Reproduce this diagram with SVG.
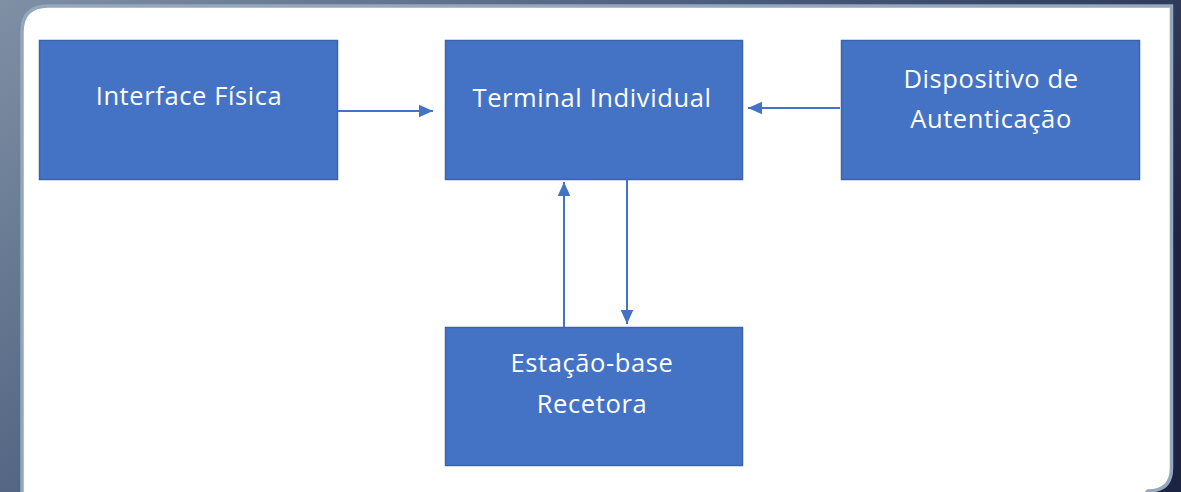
<svg xmlns="http://www.w3.org/2000/svg" width="1181" height="492" viewBox="0 0 1181 492">
<defs>
<linearGradient id="bg" x1="0" y1="0" x2="1" y2="0.5">
<stop offset="0" stop-color="#7f90a5"/>
<stop offset="0.5" stop-color="#4a5c7b"/>
<stop offset="1" stop-color="#1c2444"/>
</linearGradient>
<marker id="ah" viewBox="0 0 10 10" refX="10" refY="5" markerWidth="7" markerHeight="7" orient="auto" markerUnits="strokeWidth">
<path d="M0,0.5 L10,5 L0,9.5 z" fill="#4472C4"/>
</marker>
<style>
.box{fill:#4472C4;stroke:#3b64ad;stroke-width:1.5}
.lbl{font-family:"Open Sans","Liberation Sans",sans-serif;font-size:25.5px;letter-spacing:0.6px;fill:#ffffff;text-anchor:middle}
.conn{stroke:#4472C4;stroke-width:2;fill:none;marker-end:url(#ah)}
</style>
</defs>
<rect x="0" y="0" width="1181" height="492" fill="url(#bg)"/>
<path d="M22,500 L22,32 Q22,6 48,6 L1171.5,6 L1171.5,468 Q1171.5,491 1148,491 L1140,500 Z" fill="#ffffff" stroke="#94a7bd" stroke-width="3.5"/>
<g id="node-interface">
<rect class="box" x="39.5" y="40.5" width="298" height="139"/>
<text class="lbl" x="189" y="105">Interface Física</text>
</g>
<g id="node-terminal">
<rect class="box" x="445.5" y="40.5" width="297" height="139"/>
<text class="lbl" x="592" y="107">Terminal Individual</text>
</g>
<g id="node-dispositivo">
<rect class="box" x="841.5" y="40.5" width="298" height="139"/>
<text class="lbl" x="991" y="88">Dispositivo de</text>
<text class="lbl" x="991" y="128">Autenticação</text>
</g>
<g id="node-estacao">
<rect class="box" x="445.5" y="327.5" width="297" height="138"/>
<text class="lbl" x="592" y="372">Estação-base</text>
<text class="lbl" x="592" y="413">Recetora</text>
</g>
<g id="connectors">
<line class="conn" x1="338" y1="111" x2="433" y2="111"/>
<line class="conn" x1="840" y1="108" x2="748" y2="108"/>
<line class="conn" x1="564" y1="327" x2="564" y2="182"/>
<line class="conn" x1="627" y1="180" x2="627" y2="324"/>
</g>
</svg>
